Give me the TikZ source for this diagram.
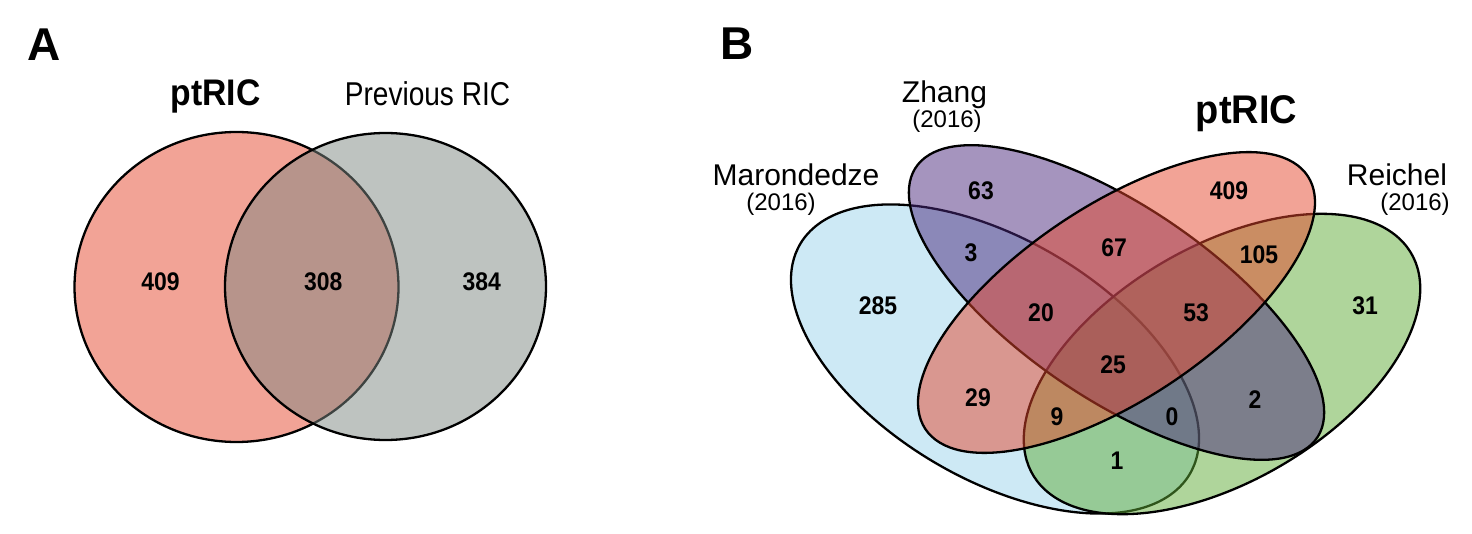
\documentclass[tikz,border=0pt]{standalone}
\usepackage{graphicx}
\usepackage{fontspec}
\setmainfont{Liberation Sans}
\definecolor{cRed}{RGB}{229,71,45}
\definecolor{cGrey}{RGB}{125,135,130}
\definecolor{cBlue}{RGB}{155,211,235}
\definecolor{cGreen}{RGB}{95,171,55}
\definecolor{cPurple}{RGB}{75,41,125}
\newcommand{\hsq}[2]{\scalebox{#1}[1]{#2}}
\newcommand{\nm}[1]{\hsq{0.9}{#1}}
\tikzset{
  setfill/.style={fill=#1, fill opacity=0.5, draw=black, draw opacity=1, line width=2.3pt},
  num/.style={font=\fontsize{25.5}{25.5}\selectfont\bfseries, inner sep=0pt, text opacity=1},
  lab/.style={font=\fontsize{30}{30}\selectfont, inner sep=0pt, anchor=base},
  yearlab/.style={font=\fontsize{24}{24}\selectfont, inner sep=0pt, anchor=base},
  boldlab/.style={font=\fontsize{#1}{#1}\selectfont\bfseries, inner sep=0pt, anchor=base},
}
\begin{document}
\begin{tikzpicture}[x=1pt, y=-1pt]
\useasboundingbox (0,0) rectangle (1472,534);
% ---------- Panel A ----------
\node[boldlab=46] (panA) at (44.5,60.7) {A};
\filldraw[setfill=cRed] (236.5,287) ellipse [x radius=162pt, y radius=155pt];
\filldraw[setfill=cGrey] (385.5,286.5) ellipse [x radius=160.5pt, y radius=153.5pt];
\node[boldlab=37] (aptric) at (215.5,106) {\hsq{0.91}{ptRIC}};
\node[lab, font=\fontsize{33}{33}\selectfont] (aprev) at (427.5,106) {\hsq{0.85}{Previous RIC}};
\node[num] (a409) at (160.5,282) {\nm{409}};
\node[num] (a308) at (323.3,282) {\nm{308}};
\node[num] (a384) at (481.7,282) {\nm{384}};
% ---------- Panel B ----------
\node[boldlab=46] (panB) at (737.5,60) {B};
% Marondedze (blue)
\begin{scope}[shift={(995,359)}, xscale=1.32]
  \filldraw[setfill=cBlue, rotate=135] (0,0) ellipse [x radius=190pt, y radius=108pt];
\end{scope}
% Reichel (green)
\begin{scope}[shift={(1222,364)}, xscale=1.32]
  \filldraw[setfill=cGreen, rotate=45] (0,0) ellipse [x radius=184pt, y radius=106pt];
\end{scope}
% Zhang (purple)
\begin{scope}[shift={(1116.5,302.5)}, xscale=1.32]
  \filldraw[setfill=cPurple, rotate=135] (0,0) ellipse [x radius=205pt, y radius=86.3pt];
\end{scope}
% ptRIC (red)
\begin{scope}[shift={(1116.5,302.5)}, xscale=1.32]
  \filldraw[setfill=cRed, rotate=45] (0,0) ellipse [x radius=194pt, y radius=87pt];
\end{scope}
% labels
\node[lab] (zhang) at (944.5,103) {Zhang};
\node[yearlab] (zhangy) at (947,127.5) {(2016)};
\node[boldlab=40] (bptric) at (1246.5,124) {\hsq{0.95}{ptRIC}};
\node[lab] (maron) at (796,186) {Marondedze};
\node[yearlab] (marony) at (781,210.5) {(2016)};
\node[lab] (reich) at (1397,186) {Reichel};
\node[yearlab] (reichy) at (1415,210.5) {(2016)};
% numbers
\node[num] (n63) at (981,191) {\nm{63}};
\node[num] (n409) at (1229,191) {\nm{409}};
\node[num] (n3) at (971,253) {\nm{3}};
\node[num] (n67) at (1114,248) {\nm{67}};
\node[num] (n105) at (1259,255) {\nm{105}};
\node[num] (n285) at (878,306) {\nm{285}};
\node[num] (n20) at (1041,313) {\nm{20}};
\node[num] (n53) at (1196,313) {\nm{53}};
\node[num] (n31) at (1365,306) {\nm{31}};
\node[num] (n25) at (1113,365) {\nm{25}};
\node[num] (n29) at (978,398) {\nm{29}};
\node[num] (n9) at (1057,417) {\nm{9}};
\node[num] (n0) at (1172,417) {\nm{0}};
\node[num] (n2) at (1255,400) {\nm{2}};
\node[num] (n1) at (1117,461) {\nm{1}};
\end{tikzpicture}
\end{document}
